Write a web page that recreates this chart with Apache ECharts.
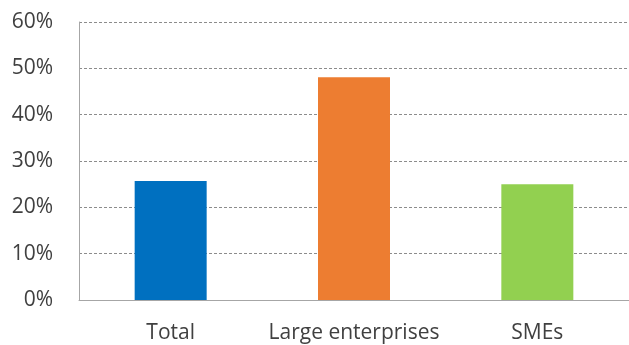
<!DOCTYPE html>
<html>
<head>
<meta charset="utf-8">
<script src="https://cdn.jsdelivr.net/npm/echarts@6/dist/echarts.min.js"></script>
<style>
  html, body { margin: 0; padding: 0; background: #fff; }
  #chart { width: 629px; height: 345px; }
</style>
</head>
<body>
<div id="chart"></div>
<script>
var categories = ['Total', 'Large enterprises', 'SMEs'];
var shares = [25.7, 48.1, 25.0];
var barColors = ['#0070C0', '#ED7D31', '#92D050'];
var yTicks = [0, 10, 20, 30, 40, 50, 60];

var myChart = echarts.init(document.getElementById('chart'));

var option = {
    backgroundColor: '#fff',
    animation: false,
    grid: {
        left: 79,
        right: -2,
        top: 22,
        bottom: 45
    },
    xAxis: {
        type: 'category',
        data: categories,
        axisLine: { lineStyle: { color: '#a6a6a6', width: 1 } },
        axisTick: { show: false },
        axisLabel: {
            interval: 0,
            hideOverlap: false,
            color: '#404040',
            fontFamily: 'Open Sans',
            fontSize: 21,
            margin: 23
        }
    },
    yAxis: {
        type: 'value',
        min: yTicks[0],
        max: yTicks[yTicks.length - 1],
        interval: 10,
        axisLine: { show: true, lineStyle: { color: '#a6a6a6', width: 1 } },
        axisTick: { show: false },
        axisLabel: {
            color: '#404040',
            fontFamily: 'Open Sans',
            fontSize: 21,
            margin: 26,
            formatter: '{value}%'
        },
        splitLine: {
            lineStyle: { color: '#8c8c8c', type: [3, 2], width: 1 }
        }
    },
    series: [{
        type: 'bar',
        barWidth: 72,
        data: shares.map(function (v, i) {
            return { value: v, itemStyle: { color: barColors[i] } };
        })
    }]
};

myChart.setOption(option);
</script>
</body>
</html>
